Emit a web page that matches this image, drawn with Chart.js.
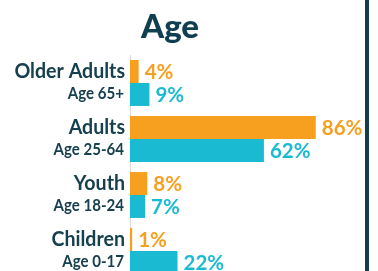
<!DOCTYPE html>
<html>
<head>
<meta charset="utf-8">
<script src="https://cdn.jsdelivr.net/npm/chart.js"></script>
<style>
  html, body { margin: 0; padding: 0; background: #fff; overflow: hidden; }
  #wrap { position: relative; width: 378px; height: 290px; }
  #rule { position: absolute; left: 365px; top: 0; width: 4px; height: 290px; background: #103e4d; }
</style>
</head>
<body>
<div id="wrap">
  <canvas id="myChart"></canvas>
  <div id="rule"></div>
</div>
<script>
const groups = ["Older Adults", "Adults", "Youth", "Children"];
const ageRanges = ["Age 65+", "Age 25-64", "Age 18-24", "Age 0-17"];
const orangeValues = [4, 86, 8, 1];
const blueValues = [9, 62, 7, 22];

const orange = "#f79f1f";
const blue = "#1bbad3";
const dark = "#17404f";

const labelPlugin = {
  id: "ageLabels",
  afterDraw(chart) {
    const ctx = chart.ctx;
    const y = chart.scales.y;
    ctx.save();

    // title
    ctx.fillStyle = "#0f3f50";
    ctx.textAlign = "center";
    ctx.textBaseline = "alphabetic";
    ctx.font = "900 33px Lato";
    ctx.fillText("Age", 170, 38);

    // two-line category labels
    ctx.textAlign = "right";
    groups.forEach((g, i) => {
      const yc = y.getPixelForValue(i);
      ctx.fillStyle = dark;
      ctx.font = "bold 20px Lato";
      ctx.save();
      ctx.translate(125, yc - 5);
      ctx.scale(0.98, 1);
      ctx.fillText(g, 0, 0);
      ctx.restore();
      // the age line is set in a narrower cut
      ctx.font = "bold 17.5px Lato";
      ctx.save();
      ctx.translate(124, yc + 16);
      ctx.scale(0.86, 1);
      ctx.fillText(ageRanges[i], 0, 0);
      ctx.restore();
    });

    // value labels
    ctx.textAlign = "left";
    ctx.textBaseline = "middle";
    ctx.font = "bold 20.5px Lato";
    chart.data.datasets.forEach((ds, di) => {
      const meta = chart.getDatasetMeta(di);
      meta.data.forEach((bar, i) => {
        ctx.fillStyle = ds.backgroundColor;
        ctx.fillText(ds.data[i] + "%", bar.x + 6, bar.y + 1);
      });
    });
    ctx.restore();
  }
};

const ctx = document.getElementById("myChart").getContext("2d");
new Chart(ctx, {
  type: "bar",
  data: {
    labels: groups,
    datasets: [{
      label: "Orange",
      data: orangeValues,
      backgroundColor: orange,
      barPercentage: 1,
      categoryPercentage: 0.82
    }, {
      label: "Blue",
      data: blueValues,
      backgroundColor: blue,
      barPercentage: 1,
      categoryPercentage: 0.82
    }]
  },
  options: {
    indexAxis: "y",
    responsive: true,
    maintainAspectRatio: false,
    animation: false,
    events: [],
    layout: {
      padding: { top: 55, bottom: 11, right: 32, left: 0 }
    },
    plugins: {
      legend: { display: false },
      tooltip: { enabled: false }
    },
    scales: {
      x: {
        display: false,
        min: 0,
        max: 100
      },
      y: {
        grid: { display: false },
        border: { display: true, color: "#dcdcdc", width: 1 },
        ticks: { display: false },
        afterFit: scale => { scale.width = 130; }
      }
    }
  },
  plugins: [labelPlugin]
});
</script>
</body>
</html>
